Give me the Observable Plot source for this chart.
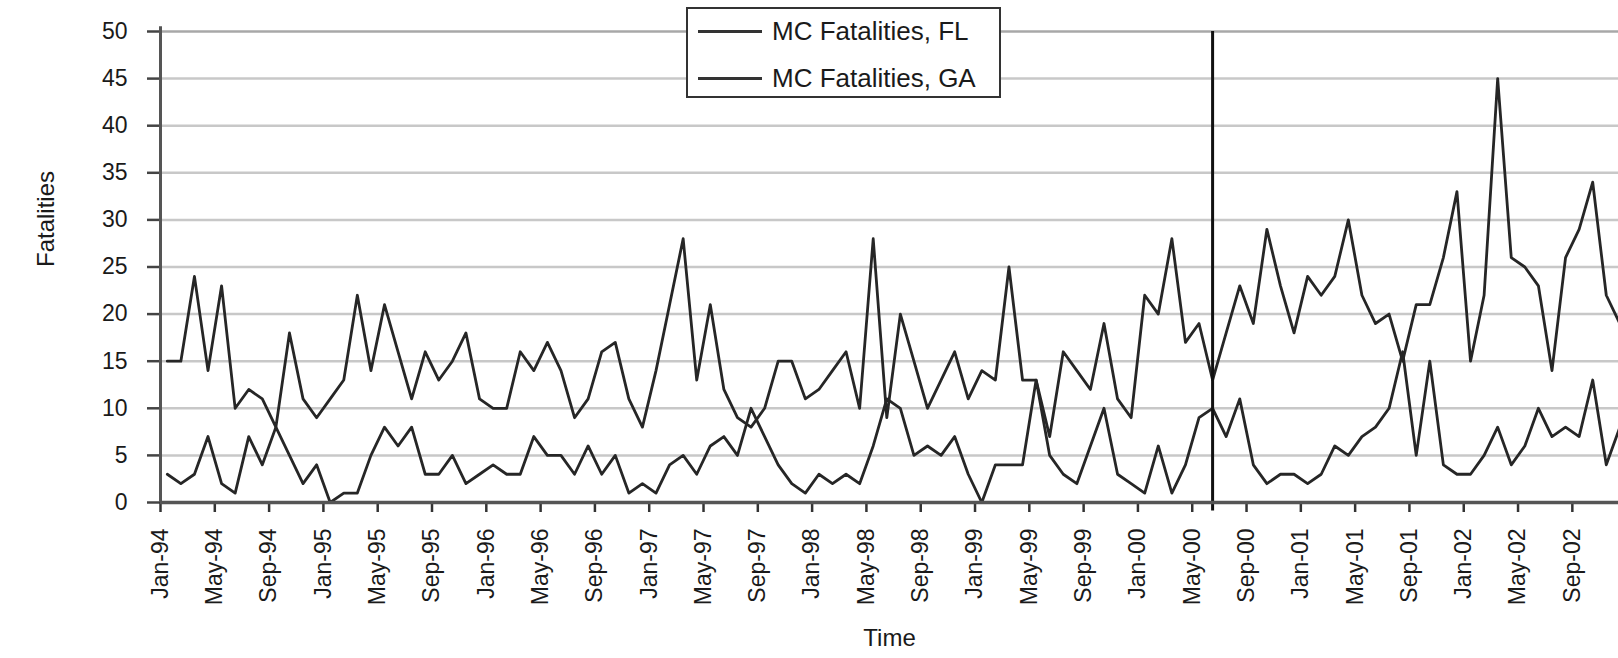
<!DOCTYPE html>
<html><head><meta charset="utf-8">
<script src="https://cdn.jsdelivr.net/npm/d3@7"></script>
<script src="https://cdn.jsdelivr.net/npm/@observablehq/plot@0.6"></script>
<style>
html,body{margin:0;padding:0;background:#fff;overflow:hidden;}
#wrap{position:relative;width:1618px;height:658px;}
#legend{position:absolute;left:686px;top:7px;width:311px;height:87px;border:2px solid #333;background:#fff;font-family:"Liberation Sans",Arial,sans-serif;font-size:26px;color:#1a1a1a;}
.row{position:absolute;left:0;height:30px;display:flex;align-items:center;white-space:nowrap;}
.sw{width:64px;height:0;border-top:3px solid #333;margin-left:10px;margin-right:10px;}
</style></head>
<body><div id="wrap"><div id="chart"></div><div id="legend"></div></div>
<script>
const seriesNames = ["MC Fatalities, FL", "MC Fatalities, GA"];
// monthly values, Jan-94 .. Dec-02
const fl = [15,15,24,14,23,10,12,11,8,18, 11,9,11,13,22,14,21,16,11,16,
            13,15,18,11,10,10,16,14,17,14, 9,11,16,17,11,8,14,21,28,13,
            21,12,9,8,10,15,15,11,12,14, 16,10,28,9,20,15,10,13,16,11,
            14,13,25,13,13,7,16,14,12,19, 11,9,22,20,28,17,19,13,18,23,
            19,29,23,18,24,22,24,30,22,19, 20,15,21,21,26,33,15,22,45,26,
            25,23,14,26,29,34,22,19];
const ga = [3,2,3,7,2,1,7,4,8,5, 2,4,0,1,1,5,8,6,8,3,
            3,5,2,3,4,3,3,7,5,5, 3,6,3,5,1,2,1,4,5,3,
            6,7,5,10,7,4,2,1,3,2, 3,2,6,11,10,5,6,5,7,3,
            0,4,4,4,13,5,3,2,6,10, 3,2,1,6,1,4,9,10,7,11,
            4,2,3,3,2,3,6,5,7,8, 10,16,5,15,4,3,3,5,8,4,
            6,10,7,8,7,13,4,8];
const tickLabels = ["Jan-94","May-94","Sep-94","Jan-95","May-95","Sep-95","Jan-96","May-96","Sep-96",
  "Jan-97","May-97","Sep-97","Jan-98","May-98","Sep-98","Jan-99","May-99","Sep-99",
  "Jan-00","May-00","Sep-00","Jan-01","May-01","Sep-01","Jan-02","May-02","Sep-02"];
const tickStep = 4;          // months between labels
const eventMonth = 77;       // Jun-00 (months since Jan-94)
const yTicks = [0,5,10,15,20,25,30,35,40,45,50];

const rows = [];
fl.forEach((v,i)=>rows.push({i, v, s: seriesNames[0]}));
ga.forEach((v,i)=>rows.push({i, v, s: seriesNames[1]}));
const xTicks = tickLabels.map((_,k)=>k*tickStep);

const font = '"Liberation Sans", Arial, sans-serif';
const plot = Plot.plot({
  width: 1618, height: 658,
  marginLeft: 160, marginRight: 0, marginTop: 31, marginBottom: 156,
  style: {fontFamily: font, fontSize: "23px", color: "#1a1a1a", background: "#fff"},
  x: {domain: [0, 107.4], axis: null, label: null},
  y: {domain: [0, 50], axis: null, label: null},
  marks: [
    Plot.gridY(yTicks.filter(d=>d>0 && d<50), {stroke: "#c8c8c8", strokeOpacity: 1, strokeWidth: 2.5}),
    Plot.ruleY([50], {stroke: "#a8a8a8", strokeWidth: 2.5}),
    Plot.axisY(yTicks, {label: null, tickSize: 13, tickPadding: 20, fontSize: 23, stroke: "#444", strokeWidth: 2.5}),
    Plot.axisX(xTicks, {label: null, tickFormat: d => tickLabels[d/tickStep], tickRotate: -90, tickSize: 10, tickPadding: 16, fontSize: 23, stroke: "#333", strokeWidth: 2.5}),
    Plot.line(rows, {x: d => d.i + 0.5, y: "v", z: "s", stroke: "#262626", strokeWidth: 2.8, clip: true}),
    Plot.ruleX([eventMonth + 0.5], {y1: -0.9, y2: 50, stroke: "#111", strokeWidth: 3}),
    Plot.ruleX([0], {y1: 0, y2: 50.5, stroke: "#555", strokeWidth: 3}),
    Plot.ruleY([0], {stroke: "#555", strokeWidth: 3.5}),
    Plot.text(["Time"], {text: d => d, frameAnchor: "bottom", dy: 143, fontSize: 24, fill: "#1a1a1a"}),
    Plot.text(["Fatalities"], {text: d => d, frameAnchor: "left", dx: -114, rotate: -90, fontSize: 24, fill: "#1a1a1a"})
  ]
});
document.getElementById("chart").appendChild(plot);

const lg = document.getElementById("legend");
seriesNames.forEach((name, k) => {
  const r = document.createElement("div");
  r.className = "row";
  r.style.top = (k === 0 ? 7 : 54) + "px";
  const sw = document.createElement("div"); sw.className = "sw";
  const t = document.createElement("span"); t.textContent = name;
  r.appendChild(sw); r.appendChild(t);
  lg.appendChild(r);
});
</script>
</body></html>
